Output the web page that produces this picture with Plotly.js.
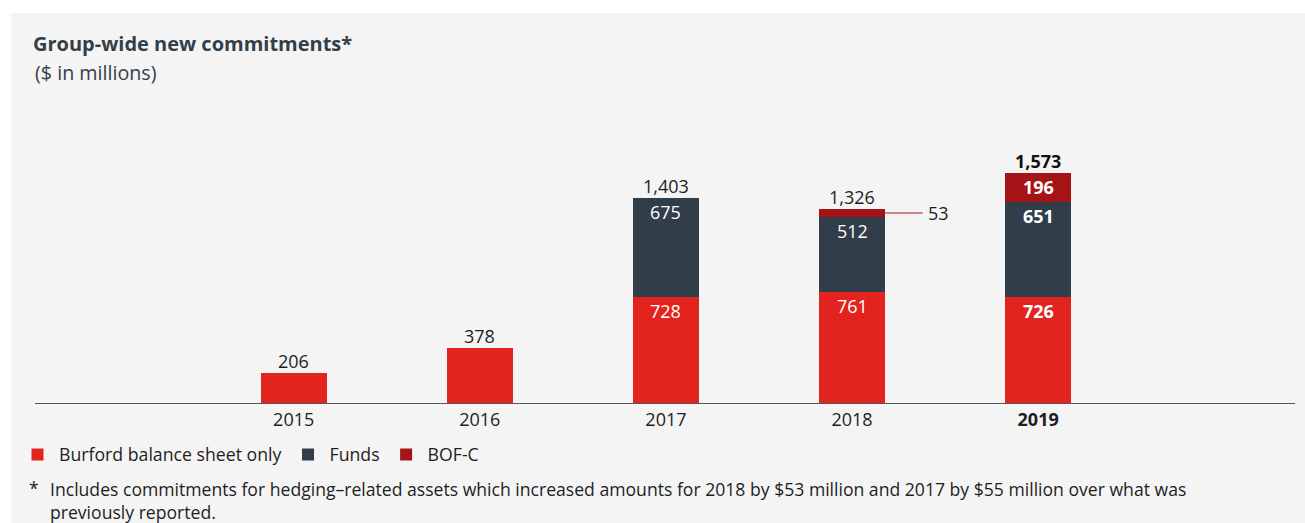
<!DOCTYPE html>
<html>
<head>
<meta charset="utf-8">
<script src="https://cdn.plot.ly/plotly-3.0.1.min.js"></script>
<style>
html,body{margin:0;padding:0;background:#ffffff;}
#chart{width:1305px;height:523px;}
</style>
</head>
<body>
<div id="chart"></div>
<script>
const years = ['2015', '2016', '2017', '2018', '2019'];
const tickLabels = ['2015', '2016', '2017', '2018', '<b>2019</b>'];
const balanceSheet = [206, 378, 728, 761, 726];
const funds = [0, 0, 675, 512, 651];
const bofc = [0, 0, 0, 53, 196];
const seriesNames = ['Burford balance sheet only', 'Funds', 'BOF-C'];
const footnoteLines = [
  'Includes commitments for hedging\u2013related assets which increased amounts for 2018 by $53 million and 2017 by $55 million over what was',
  'previously reported.'
];

const W = 1305, H = 523;
const M = {l: 35, r: 10, t: 120, b: 120};
const plotW = W - M.l - M.r, plotH = H - M.t - M.b;
const px2x = p => (p - M.l) / plotW;
const px2y = p => (H - M.b - p) / plotH;

const C_RED = '#e3241e', C_SLATE = '#313d48', C_DARK = '#a51417';
const FONT = '"Open Sans", Lato, sans-serif';
const TXT = '#1e1e1e';
const NUM = 18;

const totals = years.map((y, i) => balanceSheet[i] + funds[i] + bofc[i]);
const isBold = years.map((y, i) => i === years.length - 1);
const fmt = v => v.toLocaleString('en-US');
const b = (s, on) => on ? '<b>' + s + '</b>' : s;

const traces = [
  {type: 'bar', name: seriesNames[0], x: years, y: balanceSheet, marker: {color: C_RED}, width: 0.355, hoverinfo: 'skip'},
  {type: 'bar', name: seriesNames[1], x: years, y: funds, marker: {color: C_SLATE}, width: 0.355, hoverinfo: 'skip'},
  {type: 'bar', name: seriesNames[2], x: years, y: bofc, marker: {color: C_DARK}, width: 0.355, hoverinfo: 'skip'}
];

const ann = [];
// totals
years.forEach((y, i) => {
  ann.push({x: i, y: totals[i], xref: 'x', yref: 'y', text: b(fmt(totals[i]), isBold[i]), showarrow: false,
    yanchor: 'middle', yshift: 12, font: {family: FONT, size: NUM, color: isBold[i] ? '#111' : TXT}});
});
// inside labels
years.forEach((y, i) => {
  if (funds[i] > 0) {
    ann.push({x: i, y: balanceSheet[i], xref: 'x', yref: 'y', text: b(fmt(balanceSheet[i]), isBold[i]), showarrow: false,
      yanchor: 'middle', yshift: -14, font: {family: FONT, size: NUM, color: '#ffffff'}});
    ann.push({x: i, y: balanceSheet[i] + funds[i], xref: 'x', yref: 'y', text: b(fmt(funds[i]), isBold[i]), showarrow: false,
      yanchor: 'middle', yshift: -14, font: {family: FONT, size: NUM, color: '#ffffff'}});
  }
  if (bofc[i] > 100) {
    ann.push({x: i, y: balanceSheet[i] + funds[i] + bofc[i] / 2, xref: 'x', yref: 'y', text: b(fmt(bofc[i]), isBold[i]), showarrow: false,
      yanchor: 'middle', font: {family: FONT, size: NUM, color: '#ffffff'}});
  }
});
// small BOF-C callout
const shapes = [];
years.forEach((y, i) => {
  if (bofc[i] > 0 && bofc[i] <= 100) {
    const yc = balanceSheet[i] + funds[i] + bofc[i] / 2;
    shapes.push({type: 'line', xref: 'x', yref: 'y', x0: i + 0.178, x1: i + 0.38, y0: yc, y1: yc,
      line: {color: C_DARK, width: 1}});
    ann.push({x: i + 0.4, y: yc, xref: 'x', yref: 'y', text: fmt(bofc[i]), showarrow: false, xanchor: 'left',
      yanchor: 'middle', font: {family: FONT, size: NUM, color: TXT}});
  }
});
// background panel
shapes.unshift({type: 'rect', xref: 'paper', yref: 'paper', x0: px2x(11), x1: px2x(W + 20), y0: px2y(H + 20), y1: px2y(13),
  fillcolor: '#f4f4f4', line: {width: 0}, layer: 'below'});

// subtitle & footnote
ann.push({xref: 'paper', yref: 'paper', x: px2x(33), y: px2y(73), xanchor: 'left', yanchor: 'middle', showarrow: false,
  text: '($ in millions)', font: {family: FONT, size: 19.7, color: '#333f48'}});
ann.push({xref: 'paper', yref: 'paper', x: px2x(27), y: px2y(488), xanchor: 'left', yanchor: 'middle', showarrow: false,
  text: '*', font: {family: FONT, size: 17.6, color: TXT}});
ann.push({xref: 'paper', yref: 'paper', x: px2x(49), y: px2y(476), xanchor: 'left', yanchor: 'top', align: 'left', showarrow: false,
  borderpad: 0, text: footnoteLines.join('<br>'), font: {family: FONT, size: 17.6, color: TXT}});

const layout = {
  width: W, height: H,
  margin: M,
  paper_bgcolor: '#ffffff',
  plot_bgcolor: 'rgba(0,0,0,0)',
  barmode: 'stack',
  showlegend: true,
  title: {text: '<b>Group-wide new commitments*</b>', xref: 'container', yref: 'container', x: 33 / W, y: 1 - 44 / H,
    xanchor: 'left', yanchor: 'middle', font: {family: FONT, size: 20, color: '#333f48'}},
  xaxis: {type: 'category', range: [-1.39, 5.38], tickvals: years, ticktext: tickLabels, showline: true, linecolor: '#555555', linewidth: 1,
    showgrid: false, zeroline: false, ticks: '', tickfont: {family: FONT, size: 18, color: TXT}, fixedrange: true},
  yaxis: {range: [0, plotH * 6.84], visible: false, showgrid: false, zeroline: false, fixedrange: true},
  legend: {orientation: 'h', x: px2x(16), y: px2y(455), xanchor: 'left', yanchor: 'middle', bgcolor: 'rgba(0,0,0,0)',
    font: {family: FONT, size: 17.7, color: TXT}, itemwidth: 33, traceorder: 'normal'},
  annotations: ann,
  shapes: shapes
};

Plotly.newPlot('chart', traces, layout, {displayModeBar: false, staticPlot: true});
</script>
</body>
</html>
